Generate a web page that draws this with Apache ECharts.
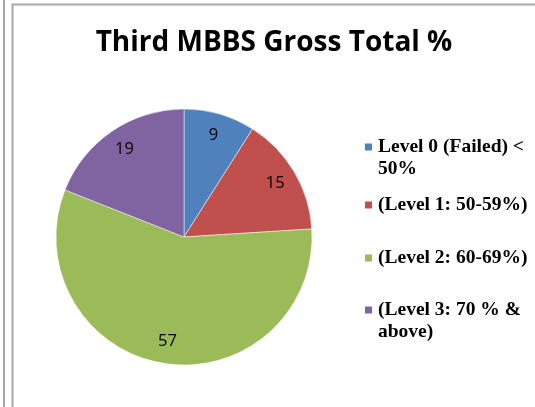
<!DOCTYPE html>
<html>
<head>
<meta charset="utf-8">
<script src="https://cdn.jsdelivr.net/npm/echarts@6/dist/echarts.min.js"></script>
<style>
  html, body { margin: 0; padding: 0; background: #ffffff; }
  #chart { width: 535px; height: 407px; }
</style>
</head>
<body>
<div id="chart"></div>
<script>
// data
var categories = ['Level 0 (Failed) < 50%', '(Level 1: 50-59%)', '(Level 2: 60-69%)', '(Level 3: 70 % & above)'];
var values = [9, 15, 57, 19];
var colors = ['#4F81BD', '#C0504D', '#9BBB59', '#8064A2'];
// centre of each legend marker (first text line)
var legendMarkY = [147, 205, 258, 310];
var legendLines = [2, 1, 1, 2];

var pieData = categories.map(function (c, i) {
  return { name: c, value: values[i], itemStyle: { color: colors[i] } };
});

// one legend per item so the spacing matches the excel layout
// wrapped items get a blank first line so the marker sits on the first text line
var legends = categories.map(function (c, i) {
  var n = legendLines[i];
  return {
    data: [c],
    left: 363,
    top: legendMarkY[i] - 11 * (2 * n - 1),
    orient: 'vertical',
    icon: 'rect',
    itemWidth: 9,
    itemHeight: 9,
    padding: 0,
    selectedMode: false,
    formatter: function (name) {
      return n > 1 ? '\n' + name : name;
    },
    textStyle: {
      fontFamily: 'Liberation Serif',
      fontWeight: 'bold',
      fontSize: 19.5,
      color: '#000000',
      lineHeight: 22,
      width: 152,
      overflow: 'break'
    }
  };
});

var chart = echarts.init(document.getElementById('chart'));
chart.setOption({
  backgroundColor: '#ffffff',
  animation: false,
  title: {
    text: 'Third MBBS Gross Total %',
    left: 269,
    textAlign: 'center',
    top: 24,
    textStyle: {
      fontFamily: 'Open Sans',
      fontWeight: 'bold',
      fontSize: 28,
      color: '#000000'
    }
  },
  legend: legends,
  graphic: [
    { type: 'line', shape: { x1: 4, y1: 0, x2: 4, y2: 407 }, style: { stroke: '#a6a6a6', lineWidth: 2 } },
    { type: 'line', shape: { x1: 12.5, y1: 4, x2: 12.5, y2: 407 }, style: { stroke: '#a6a6a6', lineWidth: 2 } },
    { type: 'line', shape: { x1: 12, y1: 4.5, x2: 535, y2: 4.5 }, style: { stroke: '#a6a6a6', lineWidth: 2 } }
  ],
  series: [
    {
      type: 'pie',
      center: [184, 237],
      radius: [0, 128],
      startAngle: 90,
      clockwise: true,
      label: { show: false },
      labelLine: { show: false },
      emphasis: { disabled: true },
      itemStyle: { borderColor: '#ffffff', borderWidth: 0.5 },
      data: pieData
    },
    {
      // transparent ring that only carries the value labels
      type: 'pie',
      center: [184, 237],
      radius: [78, 128],
      startAngle: 90,
      clockwise: true,
      silent: true,
      legendHoverLink: false,
      itemStyle: { color: 'transparent' },
      labelLine: { show: false },
      label: {
        show: true,
        position: 'inside',
        formatter: '{c}',
        fontFamily: 'Open Sans',
        fontSize: 16.5,
        color: '#000000'
      },
      data: categories.map(function (c, i) { return { name: c, value: values[i] }; })
    }
  ]
});
</script>
</body>
</html>
